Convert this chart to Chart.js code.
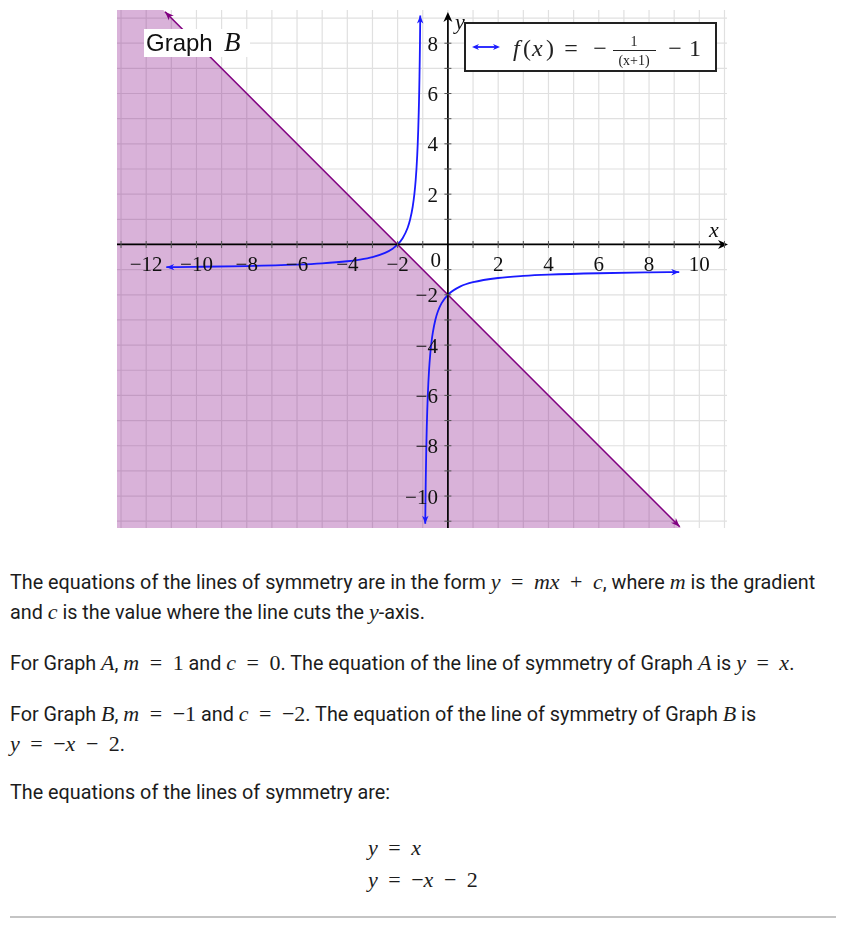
<!DOCTYPE html>
<html>
<head>
<meta charset="utf-8">
<script src="https://cdn.jsdelivr.net/npm/chart.js@4/dist/chart.umd.min.js"></script>
<style>
  html, body { margin: 0; padding: 0; background: #fff; width: 852px; height: 925px; overflow: hidden; }
  #wrap { position: absolute; left: 0; top: 0; width: 852px; height: 540px; }
  .ln { position: absolute; left: 10px; height: 30px; line-height: 30px; white-space: nowrap;
        font-family: Roboto, "Noto Sans", sans-serif; font-size: 19.8px; color: #1c1c1c; }
  .m { font-family: "Liberation Serif", "DejaVu Serif", serif; font-style: italic; font-size: 22px; }
  .o { font-family: "Liberation Serif", "DejaVu Serif", serif; font-size: 22px; }
  .sp { display: inline-block; width: 5px; }
  hr.rule { position: absolute; left: 10px; top: 916px; width: 826px; margin: 0; border: 0; border-top: 2px solid #c4c4c4; }
</style>
</head>
<body>
<div id="wrap"><canvas id="c" width="852" height="540"></canvas></div>

<div class="ln" style="top:567px">The equations of the lines of symmetry are in the form <span class="m">y</span><span class="sp"></span><span class="o"> = </span><span class="sp"></span><span class="m">mx</span><span class="sp"></span><span class="o"> + </span><span class="sp"></span><span class="m">c</span>, where <span class="m">m</span> is the gradient</div>
<div class="ln" style="top:597px">and <span class="m">c</span> is the value where the line cuts the <span class="m">y</span>-axis.</div>
<div class="ln" style="top:648px">For Graph <span class="m">A</span>, <span class="m">m</span><span class="sp"></span><span class="o"> = </span><span class="sp"></span><span class="o">1</span> and <span class="m">c</span><span class="sp"></span><span class="o"> = </span><span class="sp"></span><span class="o">0</span>. The equation of the line of symmetry of Graph <span class="m">A</span> is <span class="m">y</span><span class="sp"></span><span class="o"> = </span><span class="sp"></span><span class="m">x</span>.</div>
<div class="ln" style="top:699px">For Graph <span class="m">B</span>, <span class="m">m</span><span class="sp"></span><span class="o"> = </span><span class="sp"></span><span class="o">−1</span> and <span class="m">c</span><span class="sp"></span><span class="o"> = </span><span class="sp"></span><span class="o">−2</span>. The equation of the line of symmetry of Graph <span class="m">B</span> is</div>
<div class="ln" style="top:729px"><span class="m">y</span><span class="sp"></span><span class="o"> = </span><span class="sp"></span><span class="o">−</span><span class="m">x</span><span class="sp"></span><span class="o"> − </span><span class="sp"></span><span class="o">2</span>.</div>
<div class="ln" style="top:778px">The equations of the lines of symmetry are:</div>
<div class="ln" style="top:833px;left:368px"><span class="m">y</span><span class="sp"></span><span class="o"> = </span><span class="sp"></span><span class="m">x</span></div>
<div class="ln" style="top:865px;left:368px"><span class="m">y</span><span class="sp"></span><span class="o"> = </span><span class="sp"></span><span class="o">−</span><span class="m">x</span><span class="sp"></span><span class="o"> − </span><span class="sp"></span><span class="o">2</span></div>
<hr class="rule">

<script>
// ---- data ----
const leftBranchX  = [-11.2, -10, -8, -6, -5, -4, -3.5, -3, -2.5, -2.2, -2, -1.8, -1.6, -1.5, -1.4, -1.33, -1.28, -1.25, -1.22, -1.2, -1.18, -1.16, -1.15, -1.14, -1.13, -1.12, -1.11, -1.099];
const leftBranchY  = [-0.902, -0.889, -0.857, -0.8, -0.75, -0.667, -0.6, -0.5, -0.333, -0.167, 0, 0.25, 0.667, 1, 1.5, 2.03, 2.571, 3, 3.545, 4, 4.556, 5.25, 5.667, 6.143, 6.692, 7.333, 8.091, 9.1];
const rightBranchX = [-0.901, -0.89, -0.88, -0.86, -0.84, -0.82, -0.8, -0.75, -0.7, -0.65, -0.6, -0.5, -0.4, -0.25, 0, 0.5, 1, 2, 3, 4, 6, 8, 9.2];
const rightBranchY = [-11.1, -10.09, -9.333, -8.143, -7.25, -6.556, -6, -5, -4.333, -3.857, -3.5, -3, -2.667, -2.333, -2, -1.667, -1.5, -1.333, -1.25, -1.2, -1.143, -1.111, -1.098];
const symLineX = [-11.25, 9.22];
const symLineY = [9.25, -11.22];
const shadeX = [-13.16, -11.32, 9.27];
const shadeY = [9.32, 9.32, -11.27];
const xTickValues = [-12, -10, -8, -6, -4, -2, 2, 4, 6, 8, 10];
const yTickValues = [8, 6, 4, 2, -2, -4, -6, -8, -10];
const xRange = [-13.16, 11.1];
const yRange = [-11.27, 9.32];

const pts = (xs, ys) => xs.map((x, i) => ({ x: x, y: ys[i] }));
const SERIF = '"Liberation Serif", "DejaVu Serif", serif';
const BLUE = '#1a1aff';
const PURPLE = '#800080';

function arrowHead(ctx, x1, y1, x2, y2, len, wid, color) {
  const a = Math.atan2(y2 - y1, x2 - x1);
  ctx.save();
  ctx.translate(x2, y2);
  ctx.rotate(a);
  ctx.fillStyle = color;
  ctx.beginPath();
  ctx.moveTo(0, 0);
  ctx.lineTo(-len, -wid);
  ctx.lineTo(-len * 0.7, 0);
  ctx.lineTo(-len, wid);
  ctx.closePath();
  ctx.fill();
  ctx.restore();
}

const gridPlugin = {
  id: 'gridPlugin',
  beforeDatasetsDraw(chart) {
    const { ctx, chartArea: ca, scales: { x, y } } = chart;
    ctx.save();
    ctx.strokeStyle = '#e0e0e0';
    ctx.lineWidth = 1.2;
    for (let v = Math.ceil(xRange[0]); v <= Math.floor(xRange[1]); v++) {
      const px = x.getPixelForValue(v);
      ctx.beginPath(); ctx.moveTo(px, ca.top); ctx.lineTo(px, ca.bottom); ctx.stroke();
    }
    for (let v = Math.ceil(yRange[0]); v <= Math.floor(yRange[1]); v++) {
      const py = y.getPixelForValue(v);
      ctx.beginPath(); ctx.moveTo(ca.left, py); ctx.lineTo(ca.right, py); ctx.stroke();
    }
    ctx.restore();
  },
  afterDatasetsDraw(chart) {
    const { ctx, chartArea: ca, scales: { x, y } } = chart;
    const x0 = x.getPixelForValue(0), y0 = y.getPixelForValue(0);
    ctx.save();
    const ends = [
      [leftBranchX, leftBranchY, BLUE, 8, 3.2],
      [rightBranchX, rightBranchY, BLUE, 8, 3.2],
      [symLineX, symLineY, PURPLE, 9, 3.5]
    ];
    ends.forEach(([xs, ys, col, l, w]) => {
      const n = xs.length;
      arrowHead(ctx, x.getPixelForValue(xs[1]), y.getPixelForValue(ys[1]), x.getPixelForValue(xs[0]), y.getPixelForValue(ys[0]), l, w, col);
      arrowHead(ctx, x.getPixelForValue(xs[n - 2]), y.getPixelForValue(ys[n - 2]), x.getPixelForValue(xs[n - 1]), y.getPixelForValue(ys[n - 1]), l, w, col);
    });
    ctx.strokeStyle = '#000';
    ctx.lineWidth = 1.7;
    ctx.beginPath(); ctx.moveTo(ca.left, y0); ctx.lineTo(ca.right - 3, y0); ctx.stroke();
    ctx.beginPath(); ctx.moveTo(x0, ca.bottom); ctx.lineTo(x0, ca.top + 5); ctx.stroke();
    arrowHead(ctx, ca.left, y0, ca.right + 1, y0, 10, 4.5, '#000');
    arrowHead(ctx, x0, ca.bottom, x0, ca.top + 2, 10, 4.5, '#000');
    ctx.strokeStyle = '#555';
    ctx.lineWidth = 1;
    for (let v = Math.ceil(xRange[0]); v <= Math.floor(xRange[1]); v++) {
      if (v === 0) continue;
      const px = x.getPixelForValue(v);
      ctx.beginPath(); ctx.moveTo(px, y0 - 3.5); ctx.lineTo(px, y0 + 3.5); ctx.stroke();
    }
    for (let v = Math.ceil(yRange[0]); v <= Math.floor(yRange[1]) - 1; v++) {
      if (v === 0) continue;
      const py = y.getPixelForValue(v);
      ctx.beginPath(); ctx.moveTo(x0 - 3.5, py); ctx.lineTo(x0 + 3.5, py); ctx.stroke();
    }
    ctx.fillStyle = '#111';
    ctx.font = '21px ' + SERIF;
    ctx.textBaseline = 'middle';
    ctx.textAlign = 'center';
    xTickValues.forEach(v => {
      const s = (v < 0 ? '\u2212' : '') + Math.abs(v);
      ctx.fillText(s, x.getPixelForValue(v), y0 + 21);
    });
    ctx.textAlign = 'right';
    ctx.fillText('0', x0 - 7, y0 + 17);
    yTickValues.forEach(v => {
      const s = (v < 0 ? '\u2212' : '') + Math.abs(v);
      ctx.fillText(s, x0 - 10, y.getPixelForValue(v) + 2);
    });
    ctx.font = 'italic 22px ' + SERIF;
    ctx.textAlign = 'center';
    ctx.fillText('x', ca.right - 13, y0 - 13);
    ctx.fillText('y', x0 + 12, ca.top + 13);
    ctx.restore();
  },
  afterDraw(chart) {
    const { ctx } = chart;
    ctx.save();
    ctx.fillStyle = '#fff';
    ctx.fillRect(144, 29, 106, 28);
    ctx.fillStyle = '#111';
    ctx.textBaseline = 'alphabetic';
    ctx.textAlign = 'left';
    ctx.font = '24px "Liberation Sans", Arial, sans-serif';
    ctx.fillText('Graph', 146, 51);
    ctx.font = 'italic 27px ' + SERIF;
    ctx.fillText('B', 224, 51);
    ctx.fillStyle = '#fff';
    ctx.fillRect(465, 23, 251, 48);
    ctx.strokeStyle = '#222';
    ctx.lineWidth = 2;
    ctx.strokeRect(465, 23, 251, 48);
    ctx.strokeStyle = BLUE;
    ctx.lineWidth = 1.8;
    ctx.beginPath(); ctx.moveTo(476, 47); ctx.lineTo(497, 47); ctx.stroke();
    arrowHead(ctx, 486, 47, 500, 47, 7, 3, BLUE);
    arrowHead(ctx, 486, 47, 472, 47, 7, 3, BLUE);
    ctx.fillStyle = '#222';
    ctx.textBaseline = 'alphabetic';
    ctx.textAlign = 'left';
    const by = 56;
    ctx.font = 'italic 24px ' + SERIF; ctx.fillText('f', 513, by);
    ctx.font = '24px ' + SERIF; ctx.fillText('(', 523, by);
    ctx.font = 'italic 24px ' + SERIF; ctx.fillText('x', 532, by);
    ctx.font = '24px ' + SERIF; ctx.fillText(')', 546, by);
    ctx.textAlign = 'center';
    ctx.fillText('=', 571, by);
    ctx.fillText('\u2212', 600, by);
    ctx.fillText('\u2212', 675, by);
    ctx.fillText('1', 695, by);
    ctx.font = '14px ' + SERIF;
    ctx.fillText('1', 634, 46);
    ctx.fillText('(x+1)', 634, 65);
    ctx.lineWidth = 1;
    ctx.strokeStyle = '#222';
    ctx.beginPath(); ctx.moveTo(613, 50.5); ctx.lineTo(656, 50.5); ctx.stroke();
    ctx.restore();
  }
};

new Chart(document.getElementById('c'), {
  type: 'scatter',
  data: {
    datasets: [
      { data: pts(shadeX, shadeY), showLine: true, borderWidth: 0, borderColor: 'rgba(0,0,0,0)', fill: 'start',
        backgroundColor: 'rgba(128,0,128,0.3)', pointRadius: 0, order: 4 },
      { data: pts(symLineX, symLineY), showLine: true, borderColor: PURPLE, borderWidth: 1.6, fill: false, pointRadius: 0, order: 3 },
      { data: pts(leftBranchX, leftBranchY), showLine: true, borderColor: BLUE, borderWidth: 1.8, fill: false,
        pointRadius: 0, cubicInterpolationMode: 'monotone', order: 2 },
      { data: pts(rightBranchX, rightBranchY), showLine: true, borderColor: BLUE, borderWidth: 1.8, fill: false,
        pointRadius: 0, cubicInterpolationMode: 'monotone', order: 1 }
    ]
  },
  options: {
    responsive: false,
    animation: false,
    devicePixelRatio: 1,
    layout: { padding: { left: 117, right: 125, top: 10, bottom: 12 } },
    plugins: { legend: { display: false }, tooltip: { enabled: false } },
    scales: {
      x: { type: 'linear', min: xRange[0], max: xRange[1], display: false },
      y: { type: 'linear', min: yRange[0], max: yRange[1], display: false }
    }
  },
  plugins: [gridPlugin]
});
</script>
</body>
</html>
